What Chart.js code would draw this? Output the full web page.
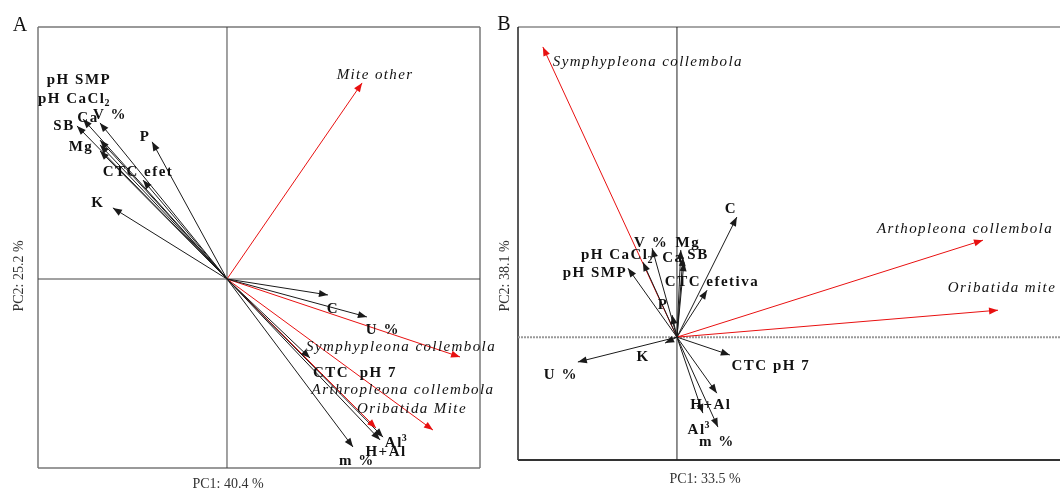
<!DOCTYPE html>
<html>
<head>
<meta charset="utf-8">
<script src="https://cdn.jsdelivr.net/npm/chart.js@4.4.0/dist/chart.umd.min.js"></script>
<style>
  body { margin: 0; background: #fff; width: 1060px; height: 495px; overflow: hidden; position: relative; }
  canvas { position: absolute; top: 0; }
  #chartA { left: 0; }
  #chartB { left: 490px; }
</style>
</head>
<body>
<canvas id="chartA" width="520" height="495"></canvas>
<canvas id="chartB" width="570" height="495"></canvas>
<script>
// soil variables (same order for both panels); '_' = subscript, '^' = superscript
const soilVars = ['pH SMP', 'pH CaCl_2', 'Ca', 'V %', 'SB', 'Mg', 'P', 'CTC efet', 'K', 'C', 'U %', 'CTC  pH 7', 'Al^3', 'H+Al', 'm %'];
const soilVarsB = ['pH SMP', 'pH CaCl_2', 'Ca', 'V %', 'SB', 'Mg', 'P', 'CTC efetiva', 'K', 'C', 'U %', 'CTC pH 7', 'Al^3', 'H+Al', 'm %'];

// panel A loadings
const soilPc1A = [-0.502, -0.502, -0.569, -0.502, -0.593, -0.502, -0.296, -0.332, -0.451, 0.399, 0.553, 0.328, 0.617, 0.605, 0.498];
const soilPc2A = [0.506, 0.530, 0.632, 0.617, 0.605, 0.549, 0.542, 0.391, 0.281, -0.063, -0.150, -0.312, -0.625, -0.636, -0.664];
const faunaA = ['Mite other', 'Symphypleona collembola', 'Arthropleona collembola', 'Oribatida Mite'];
const faunaPc1A = [0.534, 0.921, 0.589, 0.814];
const faunaPc2A = [0.775, -0.308, -0.589, -0.597];

// panel B loadings
const soilPc1B = [-0.140, -0.097, 0.017, -0.071, 0.020, 0.011, -0.014, 0.086, -0.034, 0.171, -0.283, 0.151, 0.074, 0.114, 0.117];
const soilPc2B = [0.197, 0.214, 0.229, 0.254, 0.214, 0.249, 0.063, 0.134, -0.017, 0.343, -0.071, -0.051, -0.217, -0.160, -0.257];
const faunaB = ['Symphypleona collembola', 'Arthopleona collembola', 'Oribatida mite'];
const faunaPc1B = [-0.383, 0.874, 0.917];
const faunaPc2B = [0.829, 0.277, 0.077];

// label offsets from arrow tips, in pixels (layout only)
const soilOffA = [[-21,-71],[-25,-46],[5,-1],[10,-8],[-13,0],[-19,7],[-7,-5],[-5,-8],[-15,-5],[5,14],[16,13],[45,15],[14,6],[6,12],[4,14]];
const faunaOffA = [[13,-8],[-59,-10],[27,-38],[-21,-21]];
const soilOffB = [[-33,5],[-25,-7],[-10,1],[-1,-5],[14,-7],[7,-7],[-9,-10],[5,-8],[-22,14],[-6,-8],[-17,13],[41,11],[-3,17],[-6,12],[-1,15]];
const faunaOffB = [[105,15],[-18,-11],[4,-22]];

const BLACK = '#1a1a1a';
const RED = '#e81010';
const BOLD = 'bold 15px "Liberation Serif", "Times New Roman", serif';
const ITAL = 'italic 15px "Liberation Serif", "Times New Roman", serif';

function vectors(names, xs, ys, offs, color, font, spacing) {
  return names.map((n, i) => ({
    label: n,
    data: [{x: 0, y: 0}, {x: xs[i], y: ys[i]}],
    showLine: true,
    borderColor: color,
    borderWidth: 1,
    pointRadius: 0,
    tipLabel: { text: n, off: offs[i], font: font, spacing: spacing }
  }));
}

// text with simple _sub / ^sup handling, centered at (x, y)
function drawLabel(ctx, lab, x, y) {
  ctx.save();
  ctx.font = lab.font;
  ctx.letterSpacing = lab.spacing + 'px';
  ctx.fillStyle = '#111';
  ctx.textBaseline = 'middle';
  ctx.textAlign = 'left';
  const m = lab.text.match(/^(.*?)([_^])(.*)$/);
  let main = lab.text, extra = '', kind = '';
  if (m) { main = m[1]; kind = m[2]; extra = m[3]; }
  const w1 = ctx.measureText(main).width;
  let w2 = 0;
  if (extra) {
    ctx.font = lab.font.replace('15px', '10px');
    w2 = ctx.measureText(extra).width;
    ctx.font = lab.font;
  }
  const x0 = x - (w1 + w2) / 2;
  ctx.fillText(main, x0, y);
  if (extra) {
    ctx.font = lab.font.replace('15px', '10px');
    ctx.fillText(extra, x0 + w1 - 1, kind === '_' ? y + 5 : y - 5);
  }
  ctx.restore();
}

const arrowPlugin = {
  id: 'arrows',
  beforeDatasetsDraw(chart) {
    const {ctx, chartArea: a, scales: {x, y}} = chart;
    const st = chart.options.plugins.arrows;
    const x0 = x.getPixelForValue(0), y0 = y.getPixelForValue(0);
    ctx.save();
    // frame
    ctx.lineWidth = 1.5;
    ctx.strokeStyle = st.topColor;
    ctx.beginPath(); ctx.moveTo(a.left, a.top); ctx.lineTo(a.right, a.top); ctx.stroke();
    ctx.strokeStyle = st.sideColor;
    ctx.beginPath(); ctx.moveTo(a.left, a.top); ctx.lineTo(a.left, a.bottom); ctx.stroke();
    ctx.strokeStyle = st.bottomColor;
    ctx.lineWidth = st.bottomWidth;
    ctx.beginPath(); ctx.moveTo(a.left, a.bottom); ctx.lineTo(a.right, a.bottom); ctx.stroke();
    if (st.rightBorder) {
      ctx.lineWidth = 1.5;
      ctx.strokeStyle = st.sideColor;
      ctx.beginPath(); ctx.moveTo(a.right, a.top); ctx.lineTo(a.right, a.bottom); ctx.stroke();
    }
    // zero lines
    ctx.lineWidth = 1;
    ctx.strokeStyle = st.vZeroColor;
    ctx.beginPath(); ctx.moveTo(x0, a.top); ctx.lineTo(x0, a.bottom); ctx.stroke();
    ctx.strokeStyle = st.hZeroColor;
    ctx.lineWidth = st.hZeroWidth;
    ctx.setLineDash(st.hZeroDash);
    ctx.beginPath(); ctx.moveTo(a.left, y0); ctx.lineTo(a.right, y0); ctx.stroke();
    ctx.restore();
  },
  afterDatasetsDraw(chart) {
    const {ctx} = chart;
    chart.data.datasets.forEach((ds, i) => {
      const pts = chart.getDatasetMeta(i).data;
      const p0 = pts[0], p1 = pts[1];
      const ang = Math.atan2(p1.y - p0.y, p1.x - p0.x);
      const L = 9, W = 3.5;
      ctx.save();
      ctx.fillStyle = ds.borderColor;
      ctx.beginPath();
      ctx.moveTo(p1.x, p1.y);
      ctx.lineTo(p1.x - L * Math.cos(ang) + W * Math.sin(ang), p1.y - L * Math.sin(ang) - W * Math.cos(ang));
      ctx.lineTo(p1.x - L * Math.cos(ang) - W * Math.sin(ang), p1.y - L * Math.sin(ang) + W * Math.cos(ang));
      ctx.closePath();
      ctx.fill();
      ctx.restore();
      const lab = ds.tipLabel;
      drawLabel(ctx, lab, p1.x + lab.off[0], p1.y + lab.off[1]);
    });
  }
};

function makeChart(id, datasets, xr, yr, pad, style) {
  return new Chart(document.getElementById(id), {
    type: 'scatter',
    data: { datasets: datasets },
    options: {
      responsive: false,
      animation: false,
      layout: { padding: pad },
      scales: {
        x: { type: 'linear', display: false, min: xr[0], max: xr[1] },
        y: { type: 'linear', display: false, min: yr[0], max: yr[1] }
      },
      plugins: { legend: { display: false }, tooltip: { enabled: false }, arrows: style }
    },
    plugins: [arrowPlugin]
  });
}

const dsA = vectors(soilVars, soilPc1A, soilPc2A, soilOffA, BLACK, BOLD, 1.5)
  .concat(vectors(faunaA, faunaPc1A, faunaPc2A, faunaOffA, RED, ITAL, 1.4));
const dsB = vectors(soilVarsB, soilPc1B, soilPc2B, soilOffB, BLACK, BOLD, 1.5)
  .concat(vectors(faunaB, faunaPc1B, faunaPc2B, faunaOffB, RED, ITAL, 1.4));

makeChart('chartA', dsA, [-0.747, 1.0], [-0.747, 0.996],
  { left: 38, top: 27, right: 40, bottom: 27 },
  { topColor: '#777', sideColor: '#777', bottomColor: '#777', bottomWidth: 1.5, rightBorder: true,
    vZeroColor: '#444', hZeroColor: '#444', hZeroWidth: 1, hZeroDash: [] });

makeChart('chartB', dsB, [-0.454, 1.094], [-0.351, 0.886],
  { left: 28, top: 27, right: 0, bottom: 35 },
  { topColor: '#888', sideColor: '#222', bottomColor: '#333', bottomWidth: 2, rightBorder: false,
    vZeroColor: '#222', hZeroColor: '#999', hZeroWidth: 2, hZeroDash: [2, 1] });

// panel letters and axis titles
function drawTitles(id, letter, lx, ly, xTitle, xx, xy, yTitle, yx, yy) {
  const ctx = document.getElementById(id).getContext('2d');
  ctx.save();
  ctx.fillStyle = '#111';
  ctx.textAlign = 'center';
  ctx.textBaseline = 'middle';
  ctx.font = '20px "Liberation Serif", serif';
  ctx.fillText(letter, lx, ly);
  ctx.fillStyle = '#333';
  ctx.font = '14px "Liberation Serif", serif';
  ctx.fillText(xTitle, xx, xy);
  ctx.translate(yx, yy);
  ctx.rotate(-Math.PI / 2);
  ctx.fillText(yTitle, 0, 0);
  ctx.restore();
}
drawTitles('chartA', 'A', 20, 26, 'PC1: 40.4 %', 228, 484, 'PC2: 25.2 %', 19, 276);
drawTitles('chartB', 'B', 14, 25, 'PC1: 33.5 %', 215, 479, 'PC2: 38.1 %', 15, 276);
</script>
</body>
</html>
